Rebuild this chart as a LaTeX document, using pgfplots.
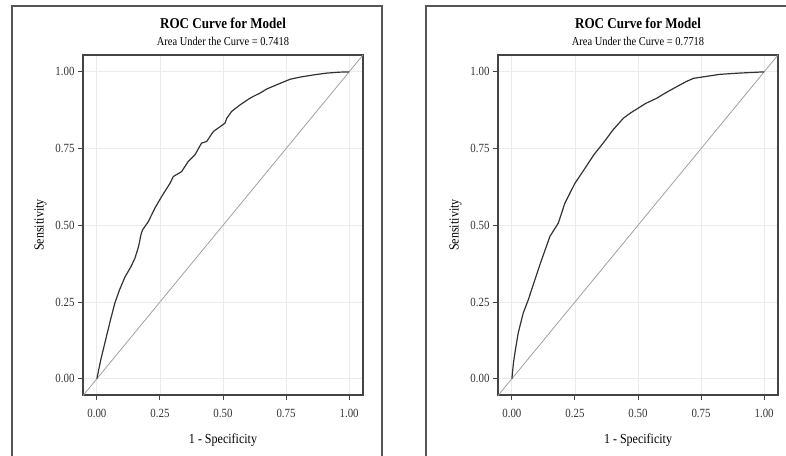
\documentclass[border=0pt]{standalone}
\usepackage{fontspec}
\setmainfont{Liberation Serif}[FakeStretch=0.87]
\usepackage{pgfplots}
\pgfplotsset{compat=1.18}

\definecolor{framegray}{HTML}{555555}
\definecolor{axisgray}{HTML}{444444}
\definecolor{curvegray}{HTML}{333333}
\definecolor{diaggray}{HTML}{A0A0A0}
\definecolor{gridgray}{HTML}{EBEBEB}

\pgfplotsset{
    rocaxis/.style={
        scale only axis,
        width=280pt, height=340pt,
        xmin=-0.055, xmax=1.055,
        ymin=-0.053, ymax=1.055,
        xtick={0,0.25,0.5,0.75,1},
        ytick={0,0.25,0.5,0.75,1},
        xtick pos=bottom, ytick pos=left,
        tick align=outside,
        major tick length=5pt,
        tick style={axisgray, line width=1pt},
        grid=major,
        grid style={gridgray, line width=0.8pt},
        axis line style={axisgray, line width=1.5pt},
        ticklabel style={font=\fontsize{12.5}{13}\selectfont, text=curvegray},
        xticklabel style={yshift=-6pt},
        /pgf/number format/.cd, fixed, fixed zerofill, precision=2,
        assume math mode=true,
        /pgfplots/.cd,
        xlabel={1 - Specificity},
        ylabel={Sensitivity},
        label style={font=\fontsize{13.8}{15}\selectfont, text=black},
        xlabel style={yshift=-9pt},
        ylabel style={yshift=2pt},
        clip=true,
    },
}

\begin{document}
\begin{tikzpicture}[x=1pt, y=1pt]
    \useasboundingbox (0,0) rectangle (786,455);
    \clip (0,0) rectangle (786,455);

    % panel frames (cropped at the bottom / right)
    \draw[framegray, line width=1.6pt] (12,-10) -- (12,449) -- (382,449) -- (382,-10);
    \draw[framegray, line width=1.6pt] (426,-10) -- (426,449) -- (800,449);

    % left panel
    \begin{axis}[rocaxis, at={(83pt,60pt)}, anchor=south west]
        \addplot[diaggray, line width=0.8pt] coordinates {(-0.055,-0.055) (1.055,1.055)};
        \addplot[curvegray, line width=1.2pt] coordinates {
            (0,0) (0.015,0.06) (0.038,0.138) (0.055,0.195) (0.071,0.246) (0.09,0.29)
            (0.111,0.331) (0.135,0.365) (0.151,0.393) (0.165,0.43) (0.175,0.47)
            (0.181,0.485) (0.204,0.512) (0.230,0.556) (0.257,0.594) (0.290,0.637)
            (0.303,0.659) (0.336,0.675) (0.362,0.708) (0.389,0.730) (0.415,0.768)
            (0.435,0.773) (0.462,0.806) (0.481,0.817) (0.508,0.833) (0.515,0.849)
            (0.534,0.871) (0.567,0.892) (0.601,0.911) (0.620,0.920) (0.647,0.931)
            (0.673,0.944) (0.713,0.958) (0.766,0.976) (0.806,0.983) (0.858,0.990)
            (0.911,0.996) (0.96,0.999) (1,1)
        };
    \end{axis}
    \node[font=\bfseries\fontsize{15}{16}\selectfont] at (223,432) {ROC Curve for Model};
    \node[font=\fontsize{12}{13}\selectfont] at (223,414) {Area Under the Curve = 0.7418};

    % right panel
    \begin{axis}[rocaxis, at={(498pt,60pt)}, anchor=south west]
        \addplot[diaggray, line width=0.8pt] coordinates {(-0.055,-0.055) (1.055,1.055)};
        \addplot[curvegray, line width=1.2pt] coordinates {
            (0,0) (0.006,0.05) (0.012,0.084) (0.025,0.149) (0.045,0.214) (0.065,0.257)
            (0.091,0.322) (0.118,0.388) (0.151,0.464) (0.184,0.507) (0.21,0.572)
            (0.25,0.637) (0.29,0.686) (0.325,0.73) (0.362,0.768) (0.40,0.81)
            (0.442,0.849) (0.47,0.866) (0.501,0.882) (0.53,0.897) (0.574,0.914)
            (0.61,0.932) (0.654,0.952) (0.69,0.968) (0.72,0.979)
            (0.825,0.992) (0.9,0.996) (1,1)
        };
    \end{axis}
    \node[font=\bfseries\fontsize{15}{16}\selectfont] at (638,432) {ROC Curve for Model};
    \node[font=\fontsize{12}{13}\selectfont] at (638,414) {Area Under the Curve = 0.7718};
\end{tikzpicture}
\end{document}
